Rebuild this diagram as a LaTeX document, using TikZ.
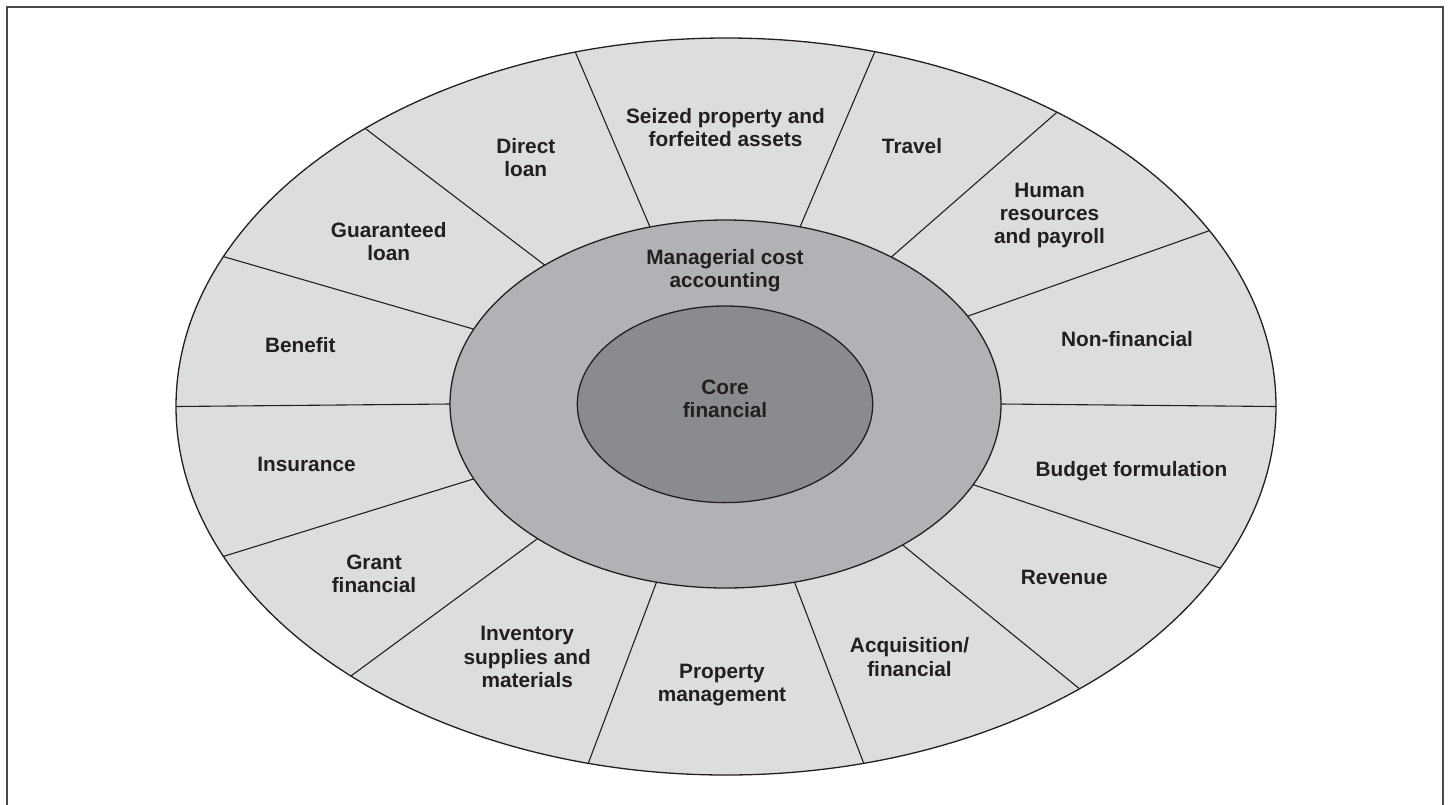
\documentclass[tikz,border=0pt]{standalone}
\usepackage{fontspec}
\setmainfont{Liberation Sans}
\definecolor{ringfill}{HTML}{DCDDDF}
\definecolor{midfill}{HTML}{B1B2B5}
\definecolor{corefill}{HTML}{8A8B8F}
\definecolor{ink}{HTML}{231F20}
\definecolor{framecol}{HTML}{4A4A4A}
\begin{document}
\begin{tikzpicture}[x=1pt,y=-1pt,
  lbl/.style={font=\fontsize{20.8}{23.3}\selectfont\bfseries, text=ink, align=center, inner sep=0pt, anchor=base},
  divider/.style={draw=ink, line width=1.1pt},
  ring/.style={draw=ink, line width=1.3pt},
  framestyle/.style={draw=framecol, line width=2pt}]
\useasboundingbox (0,0) rectangle (1449,804);
% frame (open at the bottom, runs off the page)
\draw[framestyle] (6.7,820) -- (6.7,6.7) -- (1443,6.7) -- (1443,820);
% outer ring
\draw[ring, fill=ringfill] (726,406.5) ellipse [x radius=550, y radius=368.5];
% dividers between segments
\foreach \t in {0,28.5,53,74.3,105.9,131,156,180,-156,-133,-104.5,-75.5,-50,-26}
  \draw[divider] ({725.5+275.5*cos(\t)},{404-184*sin(\t)}) -- ({726+550*cos(\t)},{406.5-368.5*sin(\t)});
% middle and core ellipses
\draw[ring, fill=midfill] (725.5,404) ellipse [x radius=275.5, y radius=184];
\draw[ring, fill=corefill] (725,404.3) ellipse [x radius=147.7, y radius=98.3];
% labels (anchor = baseline of last line)
\node[lbl] (seized) at (725.5,146.3) {Seized property and\\forfeited assets};
\node[lbl] (direct) at (525.8,176.6) {Direct\\loan};
\node[lbl] (travel) at (912,153.3) {Travel};
\node[lbl] (human) at (1049.5,243.9) {Human\\resources\\and payroll};
\node[lbl] (guar) at (388.7,260.6) {Guaranteed\\loan};
\node[lbl] (mca) at (725,287.3) {Managerial cost\\accounting};
\node[lbl] (nonfin) at (1127,346) {Non-financial};
\node[lbl] (benefit) at (300.3,352.7) {Benefit};
\node[lbl] (core) at (725,417.3) {Core\\financial};
\node[lbl] (insur) at (306.5,471) {Insurance};
\node[lbl] (budget) at (1131.5,476) {Budget formulation};
\node[lbl] (grant) at (374,592.6) {Grant\\financial};
\node[lbl] (revenue) at (1064.3,584) {Revenue};
\node[lbl] (invent) at (527.2,687.3) {Inventory\\supplies and\\materials};
\node[lbl] (acq) at (909.5,676) {Acquisition/\\financial};
\node[lbl] (prop) at (722,701.6) {Property\\management};
\end{tikzpicture}
\end{document}
